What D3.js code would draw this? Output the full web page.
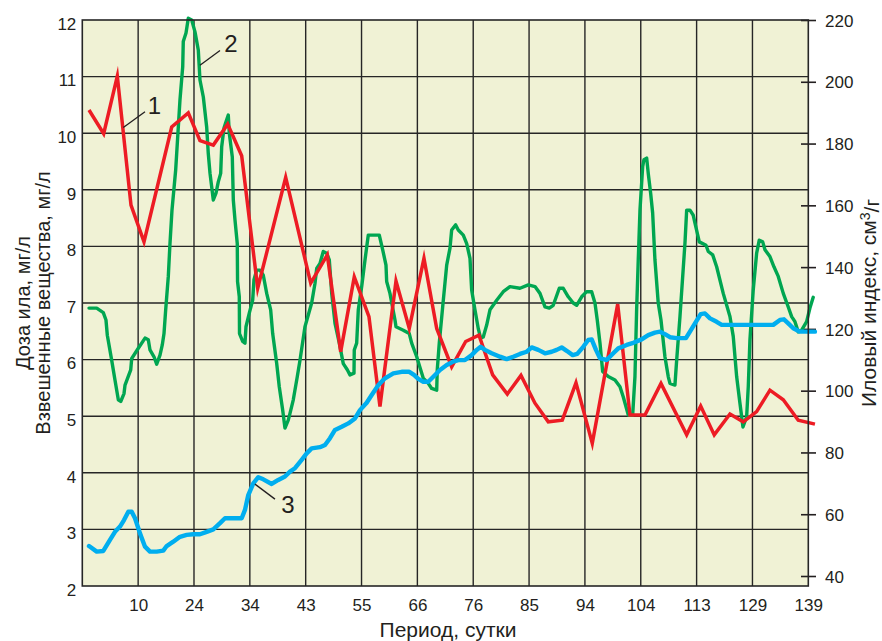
<!DOCTYPE html>
<html>
<head>
<meta charset="utf-8">
<script src="https://cdn.jsdelivr.net/npm/d3@7"></script>
<style>
  html, body { margin: 0; padding: 0; background: #fff; }
  svg { display: block; }
  text { font-family: "Liberation Sans", Arial, Helvetica, sans-serif; fill: #231f20; }
</style>
</head>
<body>
<svg id="chart" width="882" height="641"></svg>
<script>
// Period axis: grid steps 1..13 carry these day labels
const dayLabels = ["10", "24", "34", "43", "55", "66", "76", "85", "94", "104", "113", "129", "139"];
const leftTicks = [2, 3, 4, 5, 6, 7, 8, 9, 10, 11, 12];
const rightTicks = [40, 60, 80, 100, 120, 140, 160, 180, 200, 220];

// 1 — доза ила, мг/л  (t = position along the period axis, v = value)
const sludgeDoseT = [0.12,0.383,0.627,0.872,1.105,1.601,1.898,2.107,2.346,2.603,2.854,3.141,3.642,4.09,4.387,4.627,4.87,5.133,5.33,5.617,5.855,6.118,6.346,6.614,6.865,7.103,7.348,7.61,7.855,8.106,8.344,8.595,8.84,9.132,9.587,9.807,10.075,10.362,10.822,11.073,11.316,11.597,11.835,12.075,12.313,12.552,12.82,13.119];
const sludgeDoseV = [10.41,9.99,11.01,8.73,8.08,10.11,10.36,9.87,9.79,10.16,9.6,7.26,9.22,7.35,7.85,6.14,7.46,6.76,5.17,7.39,6.55,7.79,6.55,5.87,6.32,6.43,5.73,5.39,5.72,5.23,4.9,4.93,5.59,4.52,6.98,5.02,5.02,5.58,4.67,5.18,4.67,5.04,4.9,5.08,5.46,5.29,4.93,4.86];

// 2 — взвешенные вещества, мг/л
const solidsT = [0.12,0.258,0.376,0.424,0.448,0.526,0.585,0.645,0.688,0.747,0.765,0.867,0.885,1.003,1.123,1.182,1.212,1.284,1.332,1.391,1.432,1.463,1.493,1.54,1.57,1.606,1.672,1.749,1.798,1.808,1.857,1.898,1.959,2.018,2.077,2.107,2.167,2.227,2.256,2.287,2.346,2.394,2.435,2.478,2.496,2.537,2.573,2.614,2.632,2.686,2.704,2.734,2.775,2.78,2.811,2.815,2.872,2.913,2.931,2.99,3.051,3.074,3.123,3.182,3.241,3.302,3.373,3.409,3.481,3.527,3.588,3.629,3.688,3.719,3.778,3.85,3.898,3.987,4.107,4.167,4.197,4.256,4.315,4.376,4.423,4.466,4.525,4.602,4.673,4.745,4.793,4.865,4.87,4.913,4.942,5.003,5.062,5.121,5.318,5.379,5.438,5.45,5.509,5.599,5.617,5.748,5.855,5.898,5.988,6.059,6.106,6.195,6.256,6.346,6.356,6.392,6.453,6.525,6.584,6.614,6.686,6.732,6.822,6.883,6.942,6.972,7.031,7.09,7.133,7.18,7.241,7.3,7.42,7.538,7.658,7.837,7.986,8.106,8.195,8.285,8.362,8.433,8.541,8.612,8.702,8.791,8.852,8.942,9.031,9.121,9.18,9.221,9.27,9.318,9.418,9.538,9.628,9.687,9.777,9.855,9.896,9.926,9.955,9.986,10.034,10.057,10.106,10.134,10.177,10.213,10.254,10.313,10.362,10.433,10.492,10.523,10.612,10.643,10.702,10.791,10.822,10.881,10.94,10.971,11.048,11.168,11.209,11.288,11.359,11.477,11.597,11.656,11.717,11.776,11.83,11.896,11.925,11.955,12.014,12.075,12.122,12.183,12.224,12.313,12.385,12.462,12.552,12.641,12.702,12.761,12.82,12.881,12.97,13.029,13.088];
const solidsV = [6.91,6.91,6.83,6.7,6.43,5.99,5.64,5.29,5.26,5.4,5.55,5.82,6.02,6.2,6.38,6.35,6.17,6.05,5.92,6.08,6.26,6.46,6.88,7.47,8.05,8.64,9.35,10.59,11.17,11.62,11.77,12.03,12.0,11.79,11.47,10.94,10.64,10.11,9.64,9.29,8.82,8.94,9.14,9.29,9.76,10.09,10.2,10.32,10.0,9.58,8.82,8.47,8.05,7.38,7.11,6.46,6.32,6.29,6.58,6.82,7.05,7.41,7.58,7.58,7.49,7.17,6.88,6.46,5.93,5.52,5.11,4.79,4.93,5.05,5.29,5.7,5.99,6.58,7.0,7.35,7.61,7.7,7.91,7.88,7.76,7.17,6.64,6.29,5.93,5.82,5.73,5.76,6.17,6.29,6.88,7.29,7.76,8.2,8.2,7.94,7.67,7.38,7.17,6.7,6.58,6.52,6.46,6.29,6.05,5.82,5.67,5.58,5.49,5.46,5.82,6.29,6.93,7.67,7.97,8.29,8.38,8.29,8.2,8.05,7.79,7.23,6.88,6.55,6.38,6.4,6.61,6.88,7.05,7.2,7.29,7.26,7.32,7.29,7.17,6.93,6.91,6.96,7.26,7.26,7.11,7.0,6.96,7.11,7.2,7.2,7.0,6.7,6.29,5.79,5.7,5.64,5.52,5.34,5.02,5.02,5.7,6.88,7.76,8.64,9.41,9.53,9.56,9.29,8.94,8.59,7.76,7.0,6.7,6.05,5.7,5.58,5.55,5.99,6.76,8.05,8.64,8.64,8.55,8.41,8.08,8.02,7.91,7.85,7.64,7.17,6.76,6.41,5.7,5.23,4.81,4.99,5.52,6.35,7.23,7.88,8.11,8.08,7.94,7.82,7.64,7.47,7.17,6.93,6.76,6.67,6.49,6.52,6.67,6.91,7.1];

// 3 — иловый индекс, см³/г (right axis)
const sviT = [0.12,0.258,0.376,0.496,0.585,0.675,0.747,0.824,0.885,0.944,1.033,1.123,1.212,1.332,1.45,1.511,1.629,1.749,1.869,1.987,2.107,2.227,2.346,2.466,2.555,2.704,2.854,2.913,2.972,3.062,3.151,3.241,3.391,3.509,3.629,3.719,3.808,3.928,4.018,4.107,4.256,4.346,4.435,4.525,4.645,4.763,4.883,4.972,5.092,5.182,5.3,5.42,5.569,5.719,5.855,5.939,6.016,6.106,6.195,6.285,6.405,6.525,6.643,6.732,6.852,6.972,7.062,7.133,7.21,7.33,7.479,7.599,7.717,7.837,7.957,8.047,8.165,8.285,8.405,8.494,8.584,8.673,8.781,8.863,8.97,9.06,9.121,9.198,9.27,9.39,9.508,9.597,9.748,9.866,10.016,10.134,10.254,10.344,10.433,10.523,10.643,10.809,10.881,10.971,11.073,11.15,11.24,11.359,11.449,12.372,12.492,12.564,12.641,12.731,12.851,13.119];
const sviV = [49.7,47.9,48.1,51.7,54.3,56.0,58.1,60.8,60.8,58.7,53.8,49.5,47.9,47.9,48.2,49.7,51.1,52.7,53.3,53.5,53.5,54.3,55.1,57.1,58.7,58.7,58.7,61.4,66.2,70.0,72.0,71.3,69.8,71.1,72.2,73.8,74.9,77.6,79.7,81.3,81.7,82.4,84.6,87.3,88.3,89.4,91.0,93.7,96.1,98.6,101.8,104.0,105.6,106.1,106.1,105.1,103.8,102.9,102.9,104.5,106.7,108.3,109.4,109.9,109.9,111.5,113.2,114.2,113.2,112.1,111.0,110.2,111.0,111.9,112.6,114.0,113.2,112.1,112.6,113.2,114.0,112.9,111.5,111.9,114.2,116.4,116.6,113.2,110.5,109.9,112.1,113.7,114.8,115.5,116.6,118.0,118.8,119.1,118.3,117.3,117.0,117.0,119.1,121.8,124.8,125.0,123.4,122.3,121.3,121.3,122.9,123.1,121.8,120.2,119.1,119.1];

// Curve callouts: [t, v] on the left scale for the leader ends and the number
const callouts = [
  { text: "1", from: [0.734, 10.10], to: [1.123, 10.38], at: [1.293, 10.34] },
  { text: "2", from: [2.107, 11.20], to: [2.466, 11.46], at: [2.662, 11.43] },
  { text: "3", from: [3.092, 3.80], to: [3.450, 3.535], at: [3.683, 3.29] }
];

const svg = d3.select("#chart");
const plot = { left: 82.3, right: 808.3, top: 20, bottom: 586 };

const x = d3.scaleLinear().domain([0, 13]).range([plot.left, plot.right]);
const yL = d3.scaleLinear().domain([2, 12]).range([plot.bottom, plot.top]);
const yR = d3.scaleLinear().domain([40, 220]).range([576, plot.top]);

const ink = "#231f20";
const fontFamily = "'Liberation Sans', Arial, sans-serif";

// Plot background
svg.append("rect")
  .attr("x", plot.left).attr("y", plot.top)
  .attr("width", plot.right - plot.left).attr("height", plot.bottom - plot.top)
  .attr("fill", "#f0f2d5");

// Grid
const grid = svg.append("g").attr("stroke", "#262626").attr("stroke-width", 1.4);
grid.selectAll("line.h").data(leftTicks.slice(1, -1)).join("line")
  .attr("x1", plot.left).attr("x2", plot.right)
  .attr("y1", d => yL(d)).attr("y2", d => yL(d));
grid.selectAll("line.v").data(d3.range(1, 13)).join("line")
  .attr("y1", plot.top).attr("y2", plot.bottom)
  .attr("x1", d => x(d)).attr("x2", d => x(d));

// Left axis (labels only)
const gL = svg.append("g").attr("transform", `translate(${plot.left},0)`)
  .call(d3.axisLeft(yL).tickValues(leftTicks).tickSize(0).tickPadding(6).tickFormat(d3.format("d")));
gL.select(".domain").remove();
gL.selectAll("text").attr("dy", "0.55em").style("font-size", "17px")
  .style("font-family", fontFamily).attr("fill", ink);

// Right axis with short crossing ticks
const gR = svg.append("g").attr("transform", `translate(801,0)`)
  .call(d3.axisRight(yR).tickValues(rightTicks).tickSize(15).tickPadding(9).tickFormat(d3.format("d")));
gR.select(".domain").remove();
gR.selectAll("line").attr("stroke", ink).attr("stroke-width", 1.6);
gR.selectAll("text").attr("dy", "0.36em").style("font-size", "17px")
  .style("font-family", fontFamily).attr("fill", ink);

// Bottom axis (period labels)
const gB = svg.append("g").attr("transform", `translate(0,${plot.bottom})`)
  .call(d3.axisBottom(x).tickValues(d3.range(1, 14)).tickSize(0).tickPadding(13)
    .tickFormat(d => dayLabels[d - 1]));
gB.select(".domain").remove();
gB.selectAll("text").style("font-size", "17px")
  .style("font-family", fontFamily).attr("fill", ink);

// Series
const zip = (ts, vs) => ts.map((t, i) => [t, vs[i]]);
const lineL = d3.line().x(d => x(d[0])).y(d => yL(d[1]));
const lineR = d3.line().x(d => x(d[0])).y(d => yR(d[1]));

svg.append("path").datum(zip(solidsT, solidsV))
  .attr("d", lineL).attr("fill", "none")
  .attr("stroke", "#00a651").attr("stroke-width", 3.4)
  .attr("stroke-linejoin", "round").attr("stroke-linecap", "round");

svg.append("path").datum(zip(sludgeDoseT, sludgeDoseV))
  .attr("d", lineL).attr("fill", "none")
  .attr("stroke", "#ed1c24").attr("stroke-width", 3.5)
  .attr("stroke-linejoin", "miter").attr("stroke-miterlimit", 6).attr("stroke-linecap", "butt");

svg.append("path").datum(zip(sviT, sviV))
  .attr("d", lineR).attr("fill", "none")
  .attr("stroke", "#00aeef").attr("stroke-width", 4.4)
  .attr("stroke-linejoin", "round").attr("stroke-linecap", "round");

// Plot frame
svg.append("rect")
  .attr("x", plot.left).attr("y", plot.top)
  .attr("width", plot.right - plot.left).attr("height", plot.bottom - plot.top)
  .attr("fill", "none").attr("stroke", "#262626").attr("stroke-width", 1.6);

// Callouts
const co = svg.append("g");
co.selectAll("line").data(callouts).join("line")
  .attr("x1", d => x(d.from[0])).attr("y1", d => yL(d.from[1]))
  .attr("x2", d => x(d.to[0])).attr("y2", d => yL(d.to[1]))
  .attr("stroke", ink).attr("stroke-width", 1.3);
co.selectAll("text").data(callouts).join("text")
  .attr("x", d => x(d.at[0])).attr("y", d => yL(d.at[1]))
  .attr("text-anchor", "middle").style("font-size", "24px")
  .text(d => d.text);

// Axis titles
const midY = (plot.top + plot.bottom) / 2;
svg.append("text")
  .attr("x", 448).attr("y", 637).attr("text-anchor", "middle")
  .style("font-size", "21px").text("Период, сутки");

svg.append("text")
  .attr("transform", `translate(30,${midY}) rotate(-90)`)
  .attr("text-anchor", "middle").style("font-size", "20px")
  .text("Доза ила, мг/л");
svg.append("text")
  .attr("transform", `translate(50,${midY}) rotate(-90)`)
  .attr("text-anchor", "middle").style("font-size", "20px")
  .text("Взвешенные вещества, мг/л");

const rt = svg.append("text")
  .attr("transform", `translate(876,${midY}) rotate(-90)`)
  .attr("text-anchor", "middle").style("font-size", "21px");
rt.append("tspan").text("Иловый индекс, см");
rt.append("tspan").attr("dy", "-0.45em").style("font-size", "14px").text("3");
rt.append("tspan").attr("dy", "0.45em").text("/г");
</script>
</body>
</html>
